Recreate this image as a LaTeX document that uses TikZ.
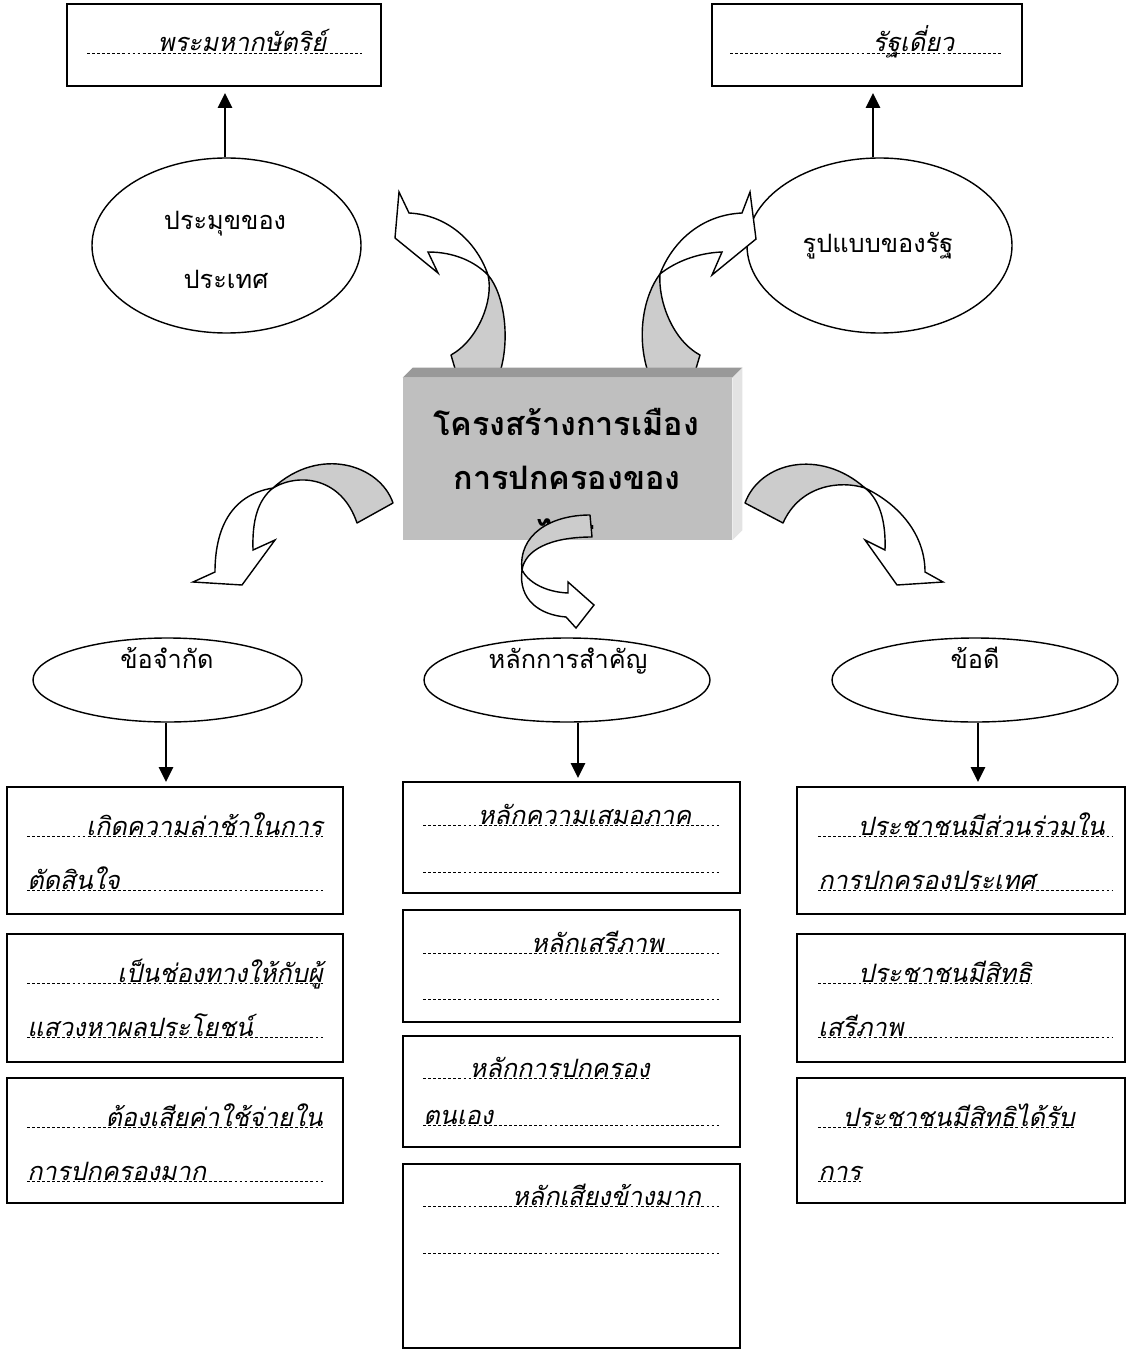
\documentclass[tikz,border=0pt]{standalone}
\usepackage{fontspec}
\newfontfamily\thaifont[Script=Thai]{Loma}
\usepackage{tikz}
\usetikzlibrary{arrows.meta}
\usetikzlibrary{shapes.geometric}
\usetikzlibrary{math}

\newlength{\PX}
\setlength{\PX}{0.025cm}

\newcommand{\ThaiText}{\thaifont\fontsize{18}{22}\selectfont}
\newcommand{\ThaiLine}{\thaifont\itshape\fontsize{18}{22}\selectfont}
\newcommand{\ThaiTitle}{\thaifont\bfseries\fontsize{23}{27}\selectfont}

\begin{document}
\begin{tikzpicture}[x=\PX, y=-\PX,
    box/.style={draw, line width=1.3pt, fill=white, inner sep=0pt},
    bubble/.style={draw, ellipse, line width=1pt, fill=white, inner sep=0pt},
    bubbletext/.style={inner sep=0pt, anchor=base, font=\ThaiText},
    linetext/.style={inner sep=0pt, font=\ThaiLine},
    dotline/.style={line width=0.5pt, dash pattern=on 2pt off 1.6pt},
    stem/.style={line width=1.4pt, -{Triangle[length=10.5pt, width=10pt]}},
    bandback/.style={draw, line width=1pt, fill=black!20, line join=round},
    bandfront/.style={draw, line width=1pt, fill=white},
]
\useasboundingbox (0,0) rectangle (1128,1352);

% Position settings (pixels of the page)
\tikzmath{
    \LeftX = 175;
    \MidX = 571.5;
    \RightX = 961;
    \LeftW = 336;
    \MidW = 337;
    \RightW = 328;
}

% Top boxes
\node[box, minimum width=314\PX, minimum height=82\PX] (kingbox) at (224,45) {};
\node[box, minimum width=310\PX, minimum height=82\PX] (statebox) at (867,45) {};
\draw[dotline] (87,53) -- (362,53);
\draw[dotline] (730,53) -- (1003,53);
\node[linetext, anchor=base] (kingtext) at (242,52) {พระมหากษัตริย์};
\node[linetext, anchor=base] (statetext) at (913.5,52) {รัฐเดี่ยว};

% Top ellipses
\node[bubble, minimum width=269\PX, minimum height=175\PX] (headellipse) at (226.5,245.5) {};
\node[bubble, minimum width=265\PX, minimum height=175\PX] (formellipse) at (879.5,245.5) {};
\node[bubbletext] (headtext1) at (225,230) {ประมุขของ};
\node[bubbletext] (headtext2) at (226,289) {ประเทศ};
\node[bubbletext] (formtext) at (878,253) {รูปแบบของรัฐ};

\coordinate (kingtip) at (225,93);
\coordinate (statetip) at (873,93);
\draw[stem] (headellipse.north -| kingtip) -- (kingtip);
\draw[stem] (formellipse.north -| statetip) -- (statetip);

% Curved arrows going up, behind the box
\draw[bandback] (451,355) -- (456,372) -- (500,372)
    .. controls (510,340) and (505,295) .. (488,275)
    .. controls (494,300) and (478,340) .. cycle;
\draw[bandfront] (488,275) .. controls (478,245) and (450,215) .. (409,213)
    -- (399,192) -- (395,238) -- (438,273) -- (428,252)
    .. controls (455,252) and (475,262) .. cycle;

\draw[bandback] (648,372) .. controls (636,335) and (644,295) .. (660,274)
    .. controls (658,300) and (672,340) .. (700,355) -- (695,372) -- cycle;
\draw[bandfront] (660,274) .. controls (672,243) and (700,215) .. (742,213)
    -- (750,192) -- (756,239) -- (712,275) -- (722,252)
    .. controls (697,253) and (675,262) .. cycle;

% Center box
\node[fill=black!25, minimum width=329\PX, minimum height=162\PX, inner sep=0pt] (centerbox) at (567.5,459) {};
\fill[black!40] (centerbox.north west) -- ++(10,-10)
    -- ([shift={(10,-10)}]centerbox.north east) -- (centerbox.north east) -- cycle;
\fill[black!11] (centerbox.north east) -- ++(10,-10)
    -- ([shift={(10,-10)}]centerbox.south east) -- (centerbox.south east) -- cycle;
\node[inner sep=0pt, anchor=base, font=\ThaiTitle] (titletext1) at (566,435) {โครงสร้างการเมือง};
\node[inner sep=0pt, anchor=base, font=\ThaiTitle] (titletext2) at (567,489) {การปกครองของ};
\begin{scope}
    \clip (403,378) rectangle (732,528);
    \node[inner sep=0pt, anchor=base, font=\ThaiTitle] (titletext3) at (567,543) {ไทย};
\end{scope}

% Bottom ellipses
\node[bubble, minimum width=269\PX, minimum height=84\PX] (limitellipse) at (167.5,680) {};
\node[bubble, minimum width=286\PX, minimum height=84\PX] (principleellipse) at (567,680) {};
\node[bubble, minimum width=286\PX, minimum height=84\PX] (meritellipse) at (975,680) {};
\node[bubbletext] (limittext) at (167,668) {ข้อจำกัด};
\node[bubbletext] (principletext) at (568,668) {หลักการสำคัญ};
\node[bubbletext] (merittext) at (975,668) {ข้อดี};

% Curved arrows going down
\draw[bandback] (393,503) .. controls (380,465) and (320,445) .. (273,488)
    .. controls (300,472) and (342,478) .. (357,523) -- cycle;
\draw[bandfront] (273,488) .. controls (230,495) and (215,530) .. (215,572)
    -- (193,582) -- (242,585) -- (275,540) -- (253,550)
    .. controls (252,520) and (258,500) .. cycle;

\draw[bandback] (745,503) .. controls (760,462) and (820,448) .. (865,488)
    .. controls (840,480) and (800,485) .. (783,523) -- cycle;
\draw[bandfront] (865,488) .. controls (900,505) and (925,535) .. (925,572)
    -- (943,582) -- (897,585) -- (865,540) -- (885,550)
    .. controls (886,522) and (880,500) .. cycle;

\draw[bandback] (590,515) .. controls (550,515) and (518,535) .. (522,570)
    .. controls (525,550) and (550,537) .. (592,537) -- cycle;
\draw[bandfront] (522,570) .. controls (518,600) and (540,615) .. (566,617)
    -- (576,628) -- (594,605) -- (568,582) -- (568,593)
    .. controls (545,592) and (528,582) .. cycle;

% Left column
\node[box, minimum width=\LeftW\PX, minimum height=127\PX] (limitbox1) at (\LeftX,850.5) {};
\node[box, minimum width=\LeftW\PX, minimum height=128\PX] (limitbox2) at (\LeftX,998) {};
\node[box, minimum width=\LeftW\PX, minimum height=125\PX] (limitbox3) at (\LeftX,1140.5) {};
\coordinate (limittip) at (166,782);
\draw[stem] (limitellipse.south -| limittip) -- (limittip);

\draw[dotline] (27,836) -- (323,836);
\draw[dotline] (27,890) -- (323,890);
\node[linetext, anchor=base east] (limittext1a) at (323,835) {เกิดความล่าช้าในการ};
\node[linetext, anchor=base west] (limittext1b) at (27,889) {ตัดสินใจ};

\draw[dotline] (27,983) -- (323,983);
\draw[dotline] (27,1037) -- (323,1037);
\node[linetext, anchor=base east] (limittext2a) at (323,982) {เป็นช่องทางให้กับผู้};
\node[linetext, anchor=base west] (limittext2b) at (27,1036) {แสวงหาผลประโยชน์};

\draw[dotline] (27,1127) -- (323,1127);
\draw[dotline] (27,1181) -- (323,1181);
\node[linetext, anchor=base east] (limittext3a) at (323,1126) {ต้องเสียค่าใช้จ่ายใน};
\node[linetext, anchor=base west] (limittext3b) at (27,1180) {การปกครองมาก};

% Middle column
\node[box, minimum width=\MidW\PX, minimum height=111\PX] (principlebox1) at (\MidX,837.5) {};
\node[box, minimum width=\MidW\PX, minimum height=112\PX] (principlebox2) at (\MidX,966) {};
\node[box, minimum width=\MidW\PX, minimum height=111\PX] (principlebox3) at (\MidX,1091.5) {};
\node[box, minimum width=\MidW\PX, minimum height=184\PX] (principlebox4) at (\MidX,1256) {};
\coordinate (principletip) at (578,778);
\draw[stem] (principleellipse.south -| principletip) -- (principletip);

\draw[dotline] (423,825) -- (720,825);
\draw[dotline] (423,872) -- (720,872);
\node[linetext, anchor=base] (principletext1) at (584.5,824) {หลักความเสมอภาค};

\draw[dotline] (423,953) -- (720,953);
\draw[dotline] (423,999) -- (720,999);
\node[linetext, anchor=base] (principletext2) at (597.5,952) {หลักเสรีภาพ};

\node[linetext, anchor=base east] (principletext3a) at (650,1077) {หลักการปกครอง};
\node[linetext, anchor=base west] (principletext3b) at (423,1124) {ตนเอง};
\draw[dotline] (423,1078) -- (principletext3a.east |- 0,1078);
\draw[dotline] (423,1125) -- (720,1125);

\draw[dotline] (423,1206) -- (720,1206);
\draw[dotline] (423,1253) -- (720,1253);
\node[linetext, anchor=base] (principletext4) at (606.5,1205) {หลักเสียงข้างมาก};

% Right column
\node[box, minimum width=\RightW\PX, minimum height=127\PX] (meritbox1) at (\RightX,850.5) {};
\node[box, minimum width=\RightW\PX, minimum height=128\PX] (meritbox2) at (\RightX,998) {};
\node[box, minimum width=\RightW\PX, minimum height=125\PX] (meritbox3) at (\RightX,1140.5) {};
\coordinate (merittip) at (978,782);
\draw[stem] (meritellipse.south -| merittip) -- (merittip);

\draw[dotline] (818,836) -- (1113,836);
\draw[dotline] (818,890) -- (1113,890);
\node[linetext, anchor=base east] (merittext1a) at (1105,835) {ประชาชนมีส่วนร่วมใน};
\node[linetext, anchor=base west] (merittext1b) at (818,889) {การปกครองประเทศ};

\node[linetext, anchor=base east] (merittext2a) at (1032,982) {ประชาชนมีสิทธิ};
\node[linetext, anchor=base west] (merittext2b) at (818,1036) {เสรีภาพ};
\draw[dotline] (818,983) -- (merittext2a.east |- 0,983);
\draw[dotline] (818,1037) -- (1113,1037);

\node[linetext, anchor=base east] (merittext3a) at (1075,1126) {ประชาชนมีสิทธิได้รับ};
\node[linetext, anchor=base west] (merittext3b) at (818,1180) {การ};
\draw[dotline] (818,1127) -- (merittext3a.east |- 0,1127);
\draw[dotline] (818,1181) -- (merittext3b.east |- 0,1181);

\end{tikzpicture}
\end{document}
